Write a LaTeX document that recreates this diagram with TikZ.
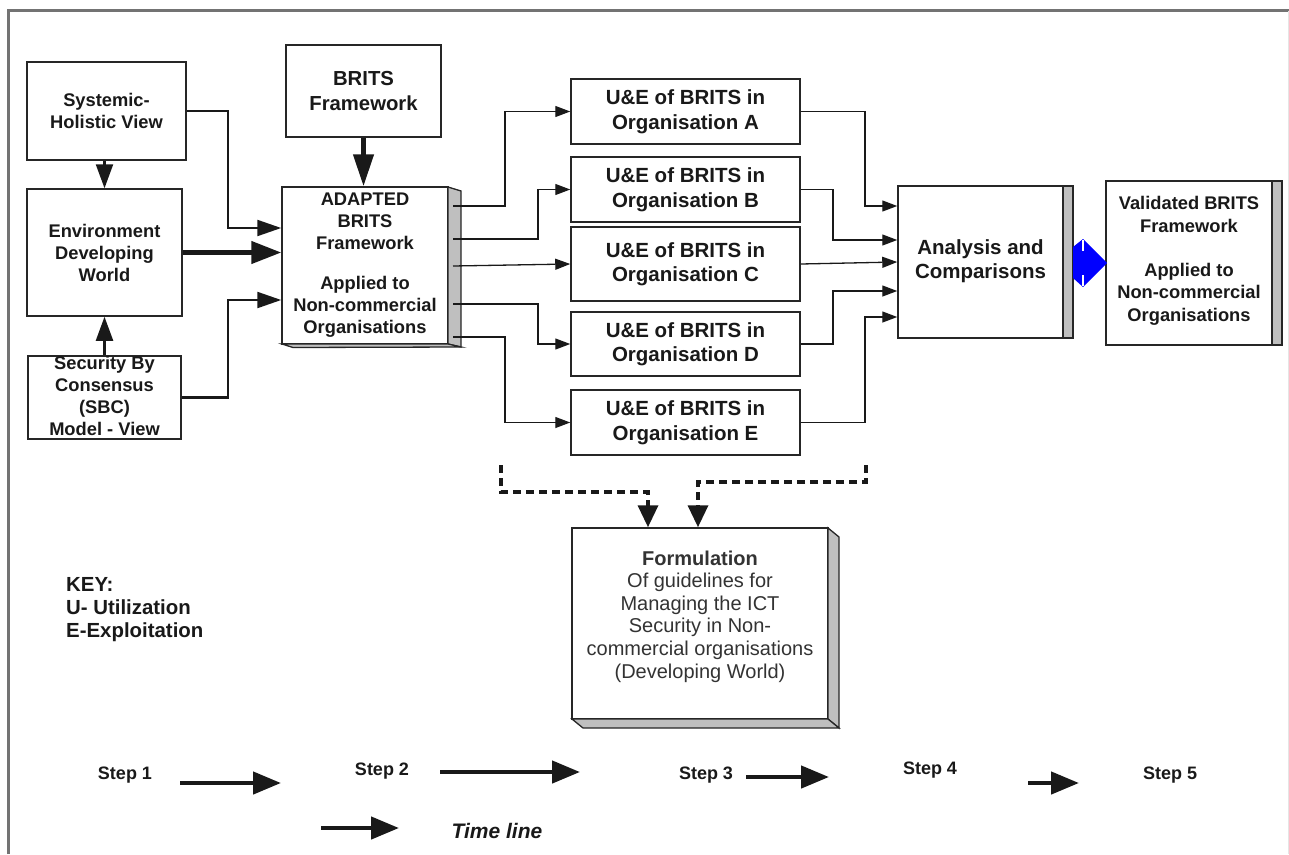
\documentclass[tikz,border=0pt]{standalone}
\usepackage{fontspec}
\setmainfont{Liberation Sans}
\usetikzlibrary{arrows.meta}
\begin{document}
\begin{tikzpicture}[x=1pt,y=-1pt]
\tikzset{
 bx/.style={draw=black!85, line width=1.5pt, fill=white, inner sep=0pt, align=center, text=black!90},
 f18/.style={font=\bfseries\fontsize{18.3}{22}\selectfont},
 f20/.style={font=\bfseries\fontsize{20.5}{24.5}\selectfont},
 txt/.style={inner sep=0pt, align=center, text=black!90},
 sideface/.style={fill=black!25, draw=black!85, line width=1.3pt},
 conn/.style={line width=1.3pt, draw=black!90, -{Triangle[length=15pt,width=11pt]}},
 connb/.style={line width=2.2pt, draw=black!90, -{Triangle[length=24pt,width=16pt]}},
 connt/.style={line width=4.5pt, draw=black!90, -{Triangle[length=30pt,width=22pt]}},
 dsh/.style={line width=3.5pt, draw=black!90, dash pattern=on 8pt off 5pt, -{Triangle[length=22pt,width=20pt]}},
 bigarr/.style={line width=4.5pt, draw=black!90, -{Triangle[length=28pt,width=22pt]}},
 steptxt/.style={inner sep=0pt, text=black!90, font=\bfseries\fontsize{18}{22}\selectfont},
}
\useasboundingbox (0,0) rectangle (1289,854);
% frame
\draw[black!55, line width=3pt] (8.5,854) -- (8.5,10.5) -- (1289,10.5);
\draw[black!10, line width=1pt] (1288,10.5) -- (1288,854);

% left boxes
\node[bx, f18, minimum width=159pt, minimum height=98pt] (sys) at (106.5,111) {Systemic-\\Holistic View};
\node[bx, f18, minimum width=155pt, minimum height=127pt] (env) at (104.5,252.5) {Environment\\Developing\\World};
\node[bx, minimum width=153pt, minimum height=83pt] (sbc) at (104.5,397.5) {};
\node[txt, f18] (sbct) at (104.5,396) {Security By\\Consensus\\(SBC)\\Model - View};

% BRITS framework
\node[bx, font=\bfseries\fontsize{20.3}{25}\selectfont, minimum width=155pt, minimum height=92pt] (brits) at (363.5,91) {BRITS\\Framework};

% adapted box (3D)
\node[bx, f18, minimum width=166pt, minimum height=157pt] (adapt) at (365,265.5) {ADAPTED\\BRITS\\Framework\\[18pt]Applied to\\Non-commercial\\Organisations};
\filldraw[sideface] (448,187) -- (461,191) -- (461,347) -- (448,344) -- cycle;
\filldraw[sideface] (282,344) -- (448,344) -- (461,347) -- (293,347.5) -- cycle;

% U&E boxes
\node[bx, f20, minimum width=229pt, minimum height=65pt] (ueA) at (685.5,111.5) {U\&E of BRITS in\\Organisation A};
\node[bx, f20, minimum width=229pt, minimum height=65pt] (ueB) at (685.5,189.5) {U\&E of BRITS in\\Organisation B};
\node[bx, f20, minimum width=229pt, minimum height=74pt] (ueC) at (685.5,264) {U\&E of BRITS in\\Organisation C};
\node[bx, f20, minimum width=229pt, minimum height=64pt] (ueD) at (685.5,344) {U\&E of BRITS in\\Organisation D};
\node[bx, f20, minimum width=229pt, minimum height=65pt] (ueE) at (685.5,422.5) {U\&E of BRITS in\\Organisation E};

% analysis
\node[bx, minimum width=175pt, minimum height=152pt] (ana) at (985.5,262) {};
\filldraw[sideface] (1063,186) rectangle (1073,338);
\node[txt, f20] (anat) at (980.5,261) {Analysis and\\Comparisons};

% validated
\node[bx, minimum width=176pt, minimum height=164pt] (val) at (1194,263) {};
\filldraw[sideface] (1272,181) rectangle (1282,345);
\node[txt, font=\bfseries\fontsize{18.3}{22.6}\selectfont] (valt) at (1189,261) {Validated BRITS\\Framework\\[21pt]Applied to\\Non-commercial\\Organisations};

% blue double arrow
\fill[blue] (1073,247) -- (1083,239) -- (1107,263) -- (1083,287) -- (1073,278) -- cycle;
\draw[white, line width=1.3pt] (1083,240) -- (1083,251) (1083,275) -- (1083,286);

% formulation (3D)
\node[bx, minimum width=256pt, minimum height=191pt] (form) at (700,623.5) {};
\node[txt, font=\fontsize{20}{22.6}\selectfont, text=black!80] (formt) at (700,616.5) {\textbf{Formulation}\\Of guidelines for\\Managing the ICT\\Security in Non-\\commercial organisations\\(Developing World)};
\filldraw[sideface] (828,528) -- (839,537) -- (839,728) -- (828,719) -- cycle;
\filldraw[sideface] (572,719) -- (828,719) -- (839,728) -- (583,728) -- cycle;

% left connectors
\draw[connb] (sys.east) -- (228,111) |- (adapt.west |- 0,228);
\draw[connt] (env.east) -- (adapt.west |- env.east);
\draw[connb] (sbc.east) -- (228,397.5) |- (adapt.west |- 0,300);
\draw[connb, -{Triangle[length=24pt,width=17pt]}] (sys.south -| env.north) -- (env.north);
\draw[connb, -{Triangle[length=24pt,width=17pt]}] (sbc.north) -- (env.south);
\draw[connt, -{Triangle[length=32pt,width=20pt]}] (brits.south) -- (brits.south |- adapt.north);

% adapted -> U&E
\coordinate (o1) at (453,206);
\coordinate (o2) at (453,239);
\coordinate (o3) at (453,266);
\coordinate (o4) at (453,304);
\coordinate (o5) at (453,337);
\draw[conn] (o1) -- (505,206) |- (ueA.west);
\draw[conn] (o2) -- (538,239) |- (ueB.west);
\draw[conn] (o3) -- (ueC.west);
\draw[conn] (o4) -- (538,304) |- (ueD.west);
\draw[conn] (o5) -- (505,337) |- (ueE.west);

% U&E -> analysis
\draw[conn] (ueA.east) -- (865,111.5) |- (ana.west |- 0,206);
\draw[conn] (ueB.east) -- (833,189.5) |- (ana.west |- 0,240);
\draw[conn] (ueC.east) -- (ana.west |- 0,262);
\draw[conn] (ueD.east) -- (833,344) |- (ana.west |- 0,291);
\draw[conn] (ueE.east) -- (865,422.5) |- (ana.west |- 0,317);

% dashed
\coordinate (d1) at (501,465);
\coordinate (d2) at (866,465);
\draw[dsh] (d1) -- (501,492) -- (648,492) -- (form.north -| 648,0);
\draw[dsh] (d2) -- (866,482) -- (698,482) -- (form.north -| 698,0);

% key
\node[txt, anchor=west, align=left, font=\bfseries\fontsize{20.4}{23}\selectfont] (key) at (66,610) {KEY:\\U- Utilization\\E-Exploitation};

% steps
\node[steptxt] (s1) at (125,775) {Step 1};
\node[steptxt] (s2) at (382,771) {Step 2};
\node[steptxt] (s3) at (706,775) {Step 3};
\node[steptxt] (s4) at (930,770) {Step 4};
\node[steptxt] (s5) at (1170,775) {Step 5};
\coordinate (a1s) at (180,783); \coordinate (a1e) at (281,783);
\coordinate (a2s) at (440,772); \coordinate (a2e) at (580,772);
\coordinate (a3s) at (746,777); \coordinate (a3e) at (829,777);
\coordinate (a4s) at (1028,783); \coordinate (a4e) at (1079,783);
\coordinate (ts) at (321,828); \coordinate (te) at (399,828);
\draw[bigarr] (a1s) -- (a1e);
\draw[bigarr] (a2s) -- (a2e);
\draw[bigarr] (a3s) -- (a3e);
\draw[bigarr] (a4s) -- (a4e);
\draw[bigarr] (ts) -- (te);
\node[txt, font=\bfseries\itshape\fontsize{21}{24}\selectfont] (tl) at (497,831) {Time line};
\end{tikzpicture}
\end{document}
